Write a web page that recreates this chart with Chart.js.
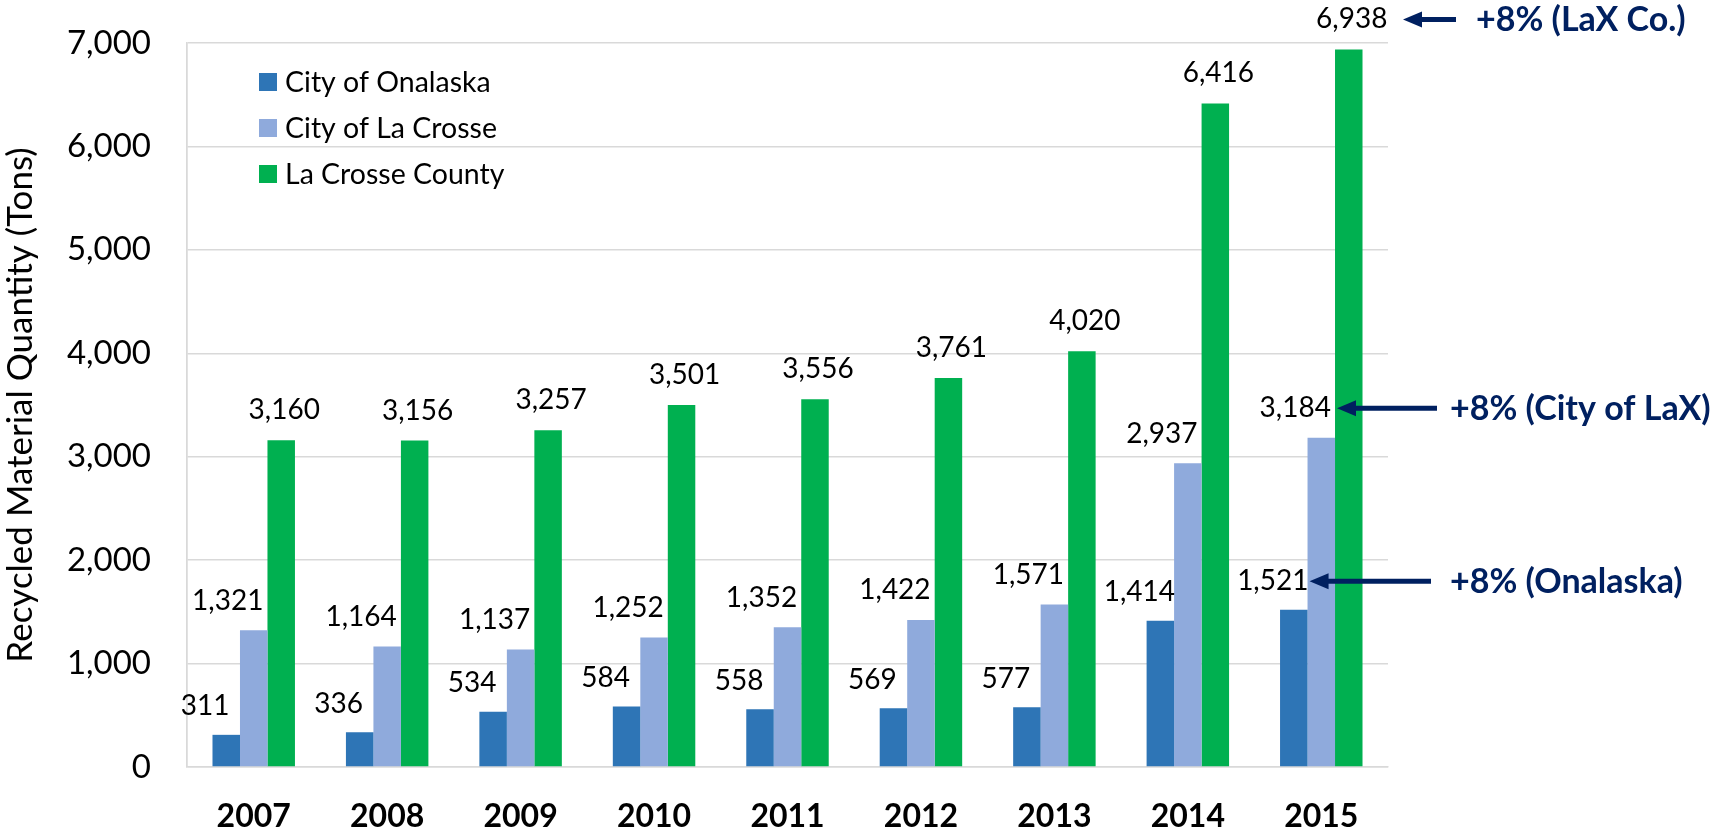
<!DOCTYPE html>
<html>
<head>
<meta charset="utf-8">
<title>Recycled Material Quantity</title>
<script src="https://cdn.jsdelivr.net/npm/chart.js@4.4.1/dist/chart.umd.min.js"></script>
<style>
    html, body { margin: 0; padding: 0; background: #ffffff; overflow: hidden; }
    #chart-wrap { width: 1710px; height: 834px; }
</style>
</head>
<body>
<div id="chart-wrap"><canvas id="recycle-canvas"></canvas></div>
<script>
// data (tons)
const years = ['2007', '2008', '2009', '2010', '2011', '2012', '2013', '2014', '2015'];
const onalaska = [311, 336, 534, 584, 558, 569, 577, 1414, 1521];
const laCrosseCity = [1321, 1164, 1137, 1252, 1352, 1422, 1571, 2937, 3184];
const laCrosseCounty = [3160, 3156, 3257, 3501, 3556, 3761, 4020, 6416, 6938];
const seriesNames = ['City of Onalaska', 'City of La Crosse', 'La Crosse County'];
const callouts = ['+8% (Onalaska)', '+8% (City of LaX)', '+8% (LaX Co.)'];
const yMax = 7000;
const yStep = 1000;

const colors = ['#2E75B6', '#8FAADC', '#00B050'];
const navy = '#002060';
const gridGray = '#d9d9d9';
const fontFamily = 'Lato, "Open Sans", sans-serif';

// label offsets from the top centre of each bar, per series
const labelOffsets = [
    { dx: -21, dy: -28.5 },
    { dx: -26, dy: -29.5 },
    { dx: 3, dy: -30 }
];

const valueLabels = {
    id: 'valueLabels',
    afterDatasetsDraw(chart) {
        const ctx = chart.ctx;
        ctx.save();
        ctx.font = '28px ' + fontFamily;
        ctx.fillStyle = '#000';
        ctx.textAlign = 'center';
        ctx.textBaseline = 'middle';
        chart.data.datasets.forEach((ds, i) => {
            const meta = chart.getDatasetMeta(i);
            meta.data.forEach((bar, j) => {
                const off = labelOffsets[i];
                ctx.fillText(ds.data[j].toLocaleString('en-US'), bar.x + off.dx, bar.y + off.dy);
            });
        });
        ctx.restore();
    }
};

// legend sits inside the plot, top left
const innerLegend = {
    id: 'innerLegend',
    afterDraw(chart) {
        const ctx = chart.ctx;
        const area = chart.chartArea;
        ctx.save();
        ctx.font = '28.5px ' + fontFamily;
        ctx.textBaseline = 'middle';
        ctx.textAlign = 'left';
        chart.data.datasets.forEach((ds, i) => {
            const y = area.top + 39 + i * 46;
            const x = area.left + 72;
            ctx.fillStyle = ds.backgroundColor;
            ctx.fillRect(x, y - 9, 18, 18);
            ctx.fillStyle = '#000';
            ctx.fillText(ds.label, x + 26, y + 1);
        });
        ctx.restore();
    }
};

// "+8%" arrows pointing at the 2015 values
const tailOffsets = [43, 49, 68];
const textOffsets = [62, 62, 88];

const growthCallouts = {
    id: 'growthCallouts',
    afterDraw(chart) {
        const ctx = chart.ctx;
        const area = chart.chartArea;
        const last = years.length - 1;
        ctx.save();
        ctx.fillStyle = navy;
        ctx.strokeStyle = navy;
        ctx.font = 'bold 34px ' + fontFamily;
        ctx.textBaseline = 'middle';
        ctx.textAlign = 'left';
        callouts.forEach((txt, i) => {
            const bar = chart.getDatasetMeta(i).data[last];
            const y = bar.y + labelOffsets[i].dy;
            let tip;
            if (i < 2) {
                tip = bar.x + bar.width / 2 + 2;
            } else {
                tip = area.right + 15;
            }
            const tail = area.right + tailOffsets[i];
            ctx.lineWidth = 5;
            ctx.beginPath();
            ctx.moveTo(tail, y);
            ctx.lineTo(tip + 15, y);
            ctx.stroke();
            ctx.beginPath();
            ctx.moveTo(tip, y);
            ctx.lineTo(tip + 19, y - 8);
            ctx.lineTo(tip + 19, y + 8);
            ctx.closePath();
            ctx.fill();
            ctx.fillText(txt, area.right + textOffsets[i], y + 1);
        });
        ctx.restore();
    }
};

const ctx = document.getElementById('recycle-canvas').getContext('2d');
const barChart = new Chart(ctx, {
    type: 'bar',
    data: {
        labels: years,
        datasets: [onalaska, laCrosseCity, laCrosseCounty].map((vals, i) => ({
            label: seriesNames[i],
            data: vals,
            backgroundColor: colors[i],
            borderWidth: 0,
            categoryPercentage: 0.618,
            barPercentage: 1
        }))
    },
    options: {
        responsive: true,
        maintainAspectRatio: false,
        animation: false,
        layout: {
            padding: { top: 43, right: 322, left: 0, bottom: 0 }
        },
        plugins: {
            legend: { display: false },
            tooltip: { enabled: false }
        },
        scales: {
            x: {
                grid: {
                    // only the plot frame: first and last category edges
                    color: (c) => (c.index === 0 || c.index === years.length) ? gridGray : 'rgba(0,0,0,0)',
                    lineWidth: 1.5,
                    drawTicks: false
                },
                border: { color: gridGray, width: 1.5 },
                ticks: {
                    color: '#000',
                    padding: 30,
                    font: { family: fontFamily, size: 32, weight: 'bold' }
                },
                afterFit: (scale) => { scale.height = 67; }
            },
            y: {
                min: 0,
                max: yMax,
                grid: { color: gridGray, lineWidth: 1.5, drawTicks: false },
                border: { color: gridGray, width: 1.5 },
                ticks: {
                    stepSize: yStep,
                    color: '#000',
                    padding: 36,
                    font: { family: fontFamily, size: 33 },
                    callback: (v) => Number(v).toLocaleString('en-US')
                },
                title: {
                    display: true,
                    text: 'Recycled Material Quantity (Tons)',
                    color: '#000',
                    font: { family: fontFamily, size: 35 },
                    padding: { top: 0, bottom: 0 }
                },
                afterFit: (scale) => {
                    scale.width = 187;
                    // keep the tick padding from pushing the plot down
                    scale.paddingTop = 0;
                    scale.paddingBottom = 0;
                }
            }
        }
    },
    plugins: [valueLabels, innerLegend, growthCallouts]
});
</script>
</body>
</html>
